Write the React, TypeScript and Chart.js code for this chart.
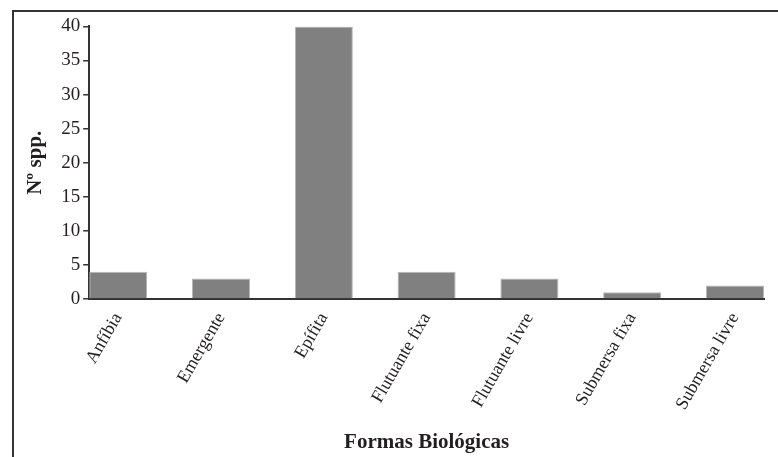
import { useEffect, useRef } from 'react';
import { Chart, registerables } from 'chart.js';

Chart.register(...registerables);

const categories = [
  'Anfíbia',
  'Emergente',
  'Epífita',
  'Flutuante fixa',
  'Flutuante livre',
  'Submersa fixa',
  'Submersa livre',
];
const species = [4, 3, 40, 4, 3, 1, 2];
const yMin = 0;
const yMax = 40;
const yStep = 5;
const xTitle = 'Formas Biológicas';
const yTitle = 'Nº spp.';

const BAR_FRACTION = 0.565;
const FONT = '"Liberation Serif", "Times New Roman", serif';
const INK = '#231f20';
const AXIS = '#333333';

export default function App() {
  const ref = useRef<HTMLCanvasElement | null>(null);

  useEffect(() => {
    if (!ref.current) return;
    const chart = new Chart(ref.current, {
      type: 'bar',
      data: {
        datasets: [
          {
            data: species.map((v, i) => ({ x: i, y: v })),
            backgroundColor: '#808080',
            borderColor: '#b8b8b8',
            borderWidth: 1,
            categoryPercentage: 1,
            barPercentage: BAR_FRACTION,
          },
        ],
      },
      options: {
        responsive: false,
        animation: false,
        layout: { padding: { left: 9, right: 14, top: 13, bottom: 2 } },
        plugins: { legend: { display: false }, tooltip: { enabled: false } },
        scales: {
          x: {
            type: 'linear',
            offset: false,
            min: -BAR_FRACTION / 2,
            max: categories.length - 1 + BAR_FRACTION / 2,
            afterBuildTicks: (scale: any) => {
              scale.ticks = categories.map((_, i) => ({ value: i }));
            },
            ticks: {
              autoSkip: false,
              minRotation: 60,
              maxRotation: 60,
              padding: 2,
              color: INK,
              font: { family: FONT, size: 18 },
              callback: (value: any) => categories[Math.round(Number(value))] ?? '',
            },
            grid: { display: false, offset: false },
            border: { display: true, color: AXIS, width: 2 },
            title: {
              display: true,
              text: xTitle,
              color: INK,
              font: { family: FONT, size: 21, weight: 'bold' },
              padding: { top: 14, bottom: 0 },
            },
          },
          y: {
            min: yMin,
            max: yMax,
            ticks: {
              stepSize: yStep,
              padding: 3,
              color: INK,
              font: { family: FONT, size: 19 },
            },
            grid: {
              display: true,
              drawOnChartArea: false,
              drawTicks: true,
              tickLength: 6,
              color: AXIS,
              lineWidth: 1.5,
            },
            border: { display: true, color: AXIS, width: 2 },
            title: {
              display: true,
              text: yTitle,
              color: INK,
              font: { family: FONT, size: 21, weight: 'bold' },
              padding: { top: 0, bottom: 10 },
            },
          },
        },
      },
    });
    return () => chart.destroy();
  }, []);

  return (
    <div
      style={{
        position: 'absolute',
        left: 12,
        top: 10,
        width: 766,
        height: 447,
        boxSizing: 'border-box',
        borderLeft: '2px solid #333',
        borderTop: '2px solid #333',
        background: '#fff',
      }}
    >
      <canvas ref={ref} width={764} height={445} style={{ display: 'block' }} />
    </div>
  );
}
